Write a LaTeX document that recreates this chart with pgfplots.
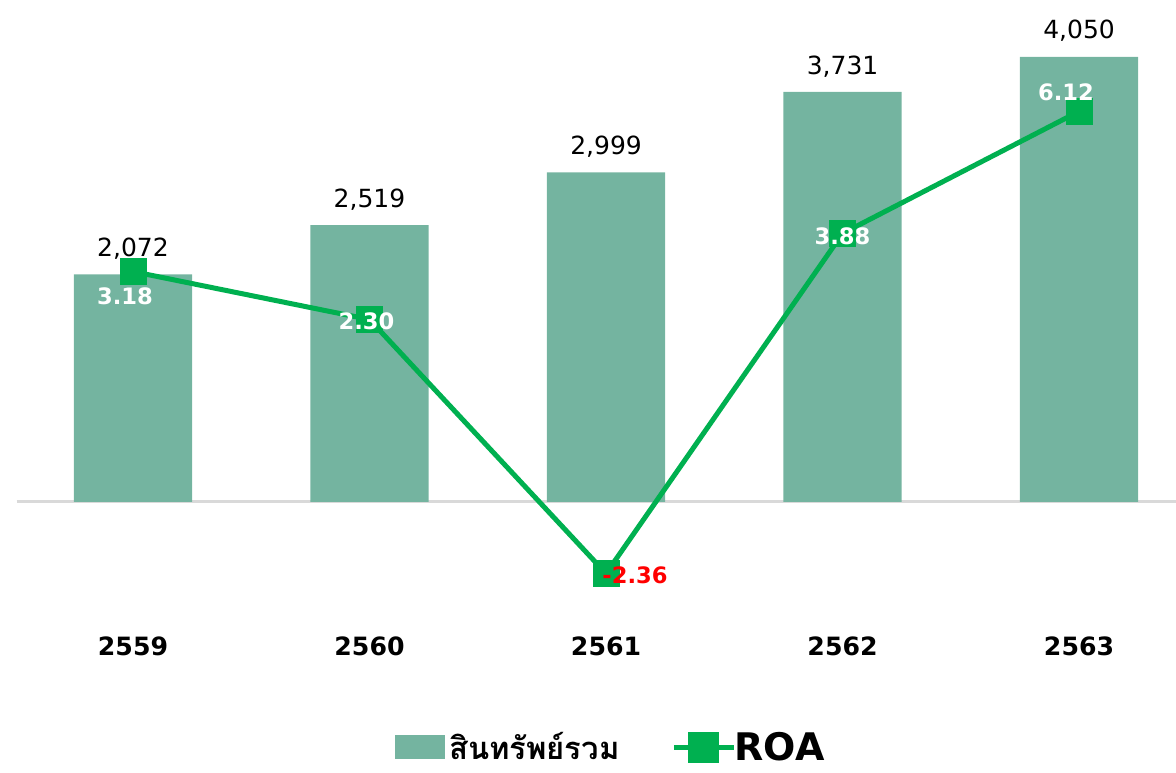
\documentclass[border=0pt]{standalone}
\usepackage{fontspec}
\setmainfont{DejaVu Sans}
\newfontfamily\thaifont[Script=Thai]{Loma}
\usepackage{pgfplots}
\usepackage{pgfplotstable}
\pgfplotsset{compat=1.18}
\definecolor{barcol}{RGB}{116,180,160}
\definecolor{lgreen}{RGB}{0,176,80}
\definecolor{lred}{RGB}{255,0,0}
\pgfplotstableread{
x y
0 2072
1 2519
2 2999
3 3731
4 4050
}\assets
\pgfplotstableread{
x y lab dx dy cc
0 3.18 3.18 -4 -12.5 0
1 2.30 2.30 -1.5 -1 0
2 -2.36 -2.36 14.5 -1 100
3 3.88 3.88 0 -1.5 0
4 6.12 6.12 -6.5 9.5 0
}\roa
\begin{document}
\begin{tikzpicture}
\useasboundingbox (0,0) rectangle (588pt,386pt);
\begin{axis}[
  at={(7.5pt,81pt)}, anchor=south west,
  scale only axis, width=580.5pt, height=300pt,
  xmin=-0.499, xmax=4.41,
  ymin=-983, ymax=4477,
  axis line style={draw=none},
  ytick=\empty,
  xtick={0,1,2,3,4},
  xticklabels={2559,2560,2561,2562,2563},
  xticklabel style={font=\fontsize{12.6}{14}\selectfont\bfseries, yshift=-10pt},
  major tick length=0pt,
  /pgf/number format/assume math mode=true,
  legend style={at={(0.514,-0.229)}, anchor=center, draw=none, fill=none,
    legend columns=2, column sep=0pt, inner sep=0pt,
    /tikz/every even column/.append style={column sep=24pt}},
  legend cell align=left,
  clip=false,
]
\draw[black!15, line width=1.5pt] (axis cs:-0.492,0) -- (axis cs:4.41,0);
\addplot[ybar, bar width=0.5, fill=barcol, draw=none,
  nodes near coords,
  nodes near coords style={font=\fontsize{12.5}{14}\selectfont, text=black, yshift=4pt,
    /pgf/number format/.cd, fixed, 1000 sep={,}},
  legend image code/.code={\fill[barcol] (0pt,-6pt) rectangle (25pt,6pt);}
] table[x=x,y=y] {\assets};
\addlegendentry{\thaifont\bfseries\fontsize{15.5}{17}\selectfont สินทรัพย์รวม}
\addlegendimage{lgreen, line width=2.5pt,
  legend image code/.code={\draw[lgreen, line width=2.5pt] (0pt,0pt) -- (30pt,0pt);
    \fill[lgreen] (8.5pt,-6.5pt) rectangle (21.5pt,6.5pt);}}
\addlegendentry{\hspace{-3pt}\fontsize{19}{21}\selectfont\bfseries ROA}
\end{axis}
\begin{axis}[
  at={(7.5pt,81pt)}, anchor=south west,
  scale only axis, width=580.5pt, height=300pt,
  xmin=-0.499, xmax=4.41,
  ymin=-3.03, ymax=7.98,
  axis lines=none,
  clip=false,
]
\addplot[lgreen, line width=2.5pt, mark=square*, mark size=6.5pt,
  mark options={fill=lgreen, draw=lgreen, line width=0pt},
  point meta=explicit symbolic,
  visualization depends on={\thisrow{dx} \as \dx},
  visualization depends on={\thisrow{dy} \as \dy},
  visualization depends on={\thisrow{cc} \as \cc},
  nodes near coords,
  nodes near coords style={anchor=center, font=\fontsize{11.3}{13}\selectfont\bfseries,
    text=lred!\cc!white, xshift=\dx pt, yshift=\dy pt},
] table[x=x,y=y,meta=lab] {\roa};
\end{axis}
\end{tikzpicture}
\end{document}
